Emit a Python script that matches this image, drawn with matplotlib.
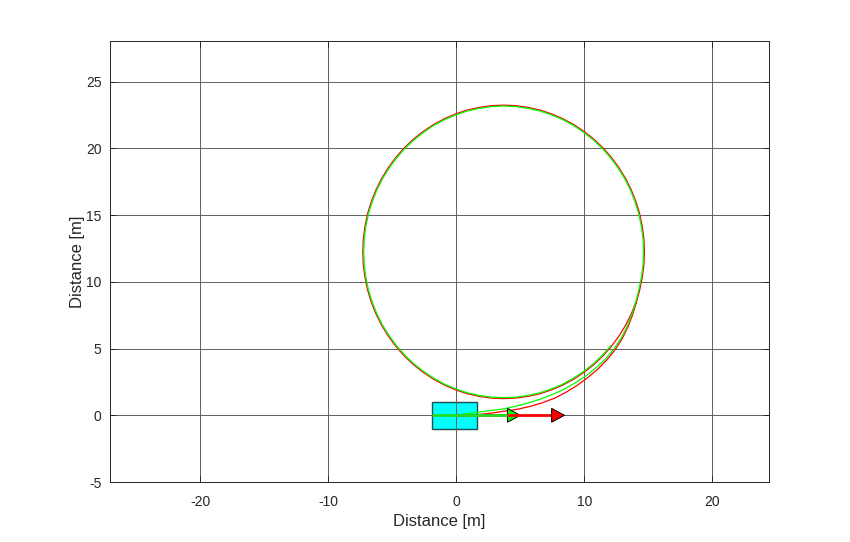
import matplotlib
matplotlib.use("Agg")
import matplotlib.pyplot as plt
from matplotlib.patches import Rectangle

plt.rcParams['font.family'] = ['Liberation Sans', 'DejaVu Sans']
plt.rcParams['axes.unicode_minus'] = False

# reference path (red): approach curve, then one loop (5 deg steps)
ref_x = [0, 1.55, 2.64, 3.70, 4.73, 5.74, 6.73, 7.69, 8.60, 9.47, 10.29, 11.07, 11.78,
         12.42, 12.97, 13.42, 13.78, 14.07,
         14.33, 14.53, 14.66, 14.70, 14.66, 14.53, 14.33, 14.04, 13.67, 13.23, 12.71,
         12.13, 11.48, 10.77, 10.01, 9.20, 8.35, 7.46, 6.55, 5.61, 4.66, 3.70, 2.74,
         1.79, 0.85, -0.06, -0.95, -1.80, -2.61, -3.37, -4.08, -4.73, -5.31, -5.83,
         -6.27, -6.64, -6.93, -7.13, -7.26, -7.30, -7.26, -7.13, -6.93, -6.64, -6.27,
         -5.83, -5.31, -4.73, -4.08, -3.37, -2.61, -1.80, -0.95, -0.06, 0.85, 1.79,
         2.74, 3.70, 4.66, 5.61, 6.55, 7.46, 8.35, 9.20, 10.01, 10.77, 11.48, 12.13,
         12.71, 13.23, 13.67, 14.04]
ref_y = [0, 0.04, 0.15, 0.30, 0.445, 0.66, 0.94, 1.29, 1.74, 2.26, 2.84, 3.47, 4.17,
         4.93, 5.76, 6.64, 7.55, 8.47,
         9.40, 10.34, 11.29, 12.25, 13.21, 14.16, 15.10, 16.01, 16.90, 17.75, 18.56,
         19.32, 20.03, 20.68, 21.26, 21.78, 22.22, 22.59, 22.88, 23.08, 23.21, 23.25, 23.21,
         23.08, 22.88, 22.59, 22.22, 21.78, 21.26, 20.68, 20.03, 19.32, 18.56, 17.75,
         16.90, 16.01, 15.10, 14.16, 13.21, 12.25, 11.29, 10.34, 9.40, 8.49, 7.60,
         6.75, 5.94, 5.18, 4.47, 3.82, 3.24, 2.72, 2.28, 1.91, 1.62, 1.42,
         1.29, 1.25, 1.29, 1.42, 1.62, 1.91, 2.28, 2.72, 3.24, 3.82, 4.47, 5.18,
         5.94, 6.75, 7.60, 8.49]

# driven path (green)
car_x = [0, 1.58, 2.66, 3.70, 4.71, 5.69, 6.65, 7.58, 8.48, 9.35, 10.18, 10.96, 11.69,
         12.34, 12.90, 13.36, 13.72, 14.02,
         14.26, 14.46, 14.59, 14.63, 14.59, 14.46, 14.26, 13.97, 13.61, 13.17, 12.65,
         12.07, 11.43, 10.73, 9.97, 9.17, 8.32, 7.44, 6.53, 5.60, 4.65, 3.70, 2.75,
         1.80, 0.87, -0.04, -0.92, -1.77, -2.57, -3.33, -4.03, -4.67, -5.25, -5.77,
         -6.21, -6.57, -6.86, -7.06, -7.19, -7.23, -7.19, -7.06, -6.86, -6.57, -6.21,
         -5.77, -5.25, -4.67, -4.03, -3.33, -2.57, -1.77, -0.92, -0.04, 0.87, 1.80,
         2.75, 3.70, 4.65, 5.60, 6.53, 7.44, 8.32, 9.17, 9.97, 10.73, 11.43, 12.07]
car_y = [0, 0.22, 0.35, 0.48, 0.69, 0.94, 1.24, 1.58, 1.99, 2.46, 2.99, 3.59, 4.26,
         5.00, 5.81, 6.68, 7.58, 8.50,
         9.42, 10.35, 11.30, 12.25, 13.20, 14.15, 15.08, 15.99, 16.87, 17.72, 18.52,
         19.28, 19.98, 20.62, 21.20, 21.72, 22.16, 22.52, 22.81, 23.01, 23.14, 23.18, 23.14,
         23.01, 22.81, 22.52, 22.16, 21.72, 21.20, 20.62, 19.98, 19.28, 18.52, 17.72,
         16.87, 15.99, 15.08, 14.15, 13.20, 12.25, 11.30, 10.35, 9.42, 8.51, 7.63,
         6.78, 5.98, 5.22, 4.52, 3.88, 3.30, 2.79, 2.34, 1.98, 1.69, 1.49,
         1.36, 1.32, 1.36, 1.49, 1.69, 1.98, 2.34, 2.79, 3.30, 3.88, 4.52, 5.22]

# vehicle body and arrows
body_rear = -1.9
body_len = 3.5
body_wid = 2.0
vel_arrow = 5.0      # green
ref_arrow = 8.45     # red
head_len = 1.0
head_wid = 1.04

fig = plt.figure(figsize=(8.5, 5.42), dpi=100)
ax = fig.add_axes([0.1294, 0.1107, 0.7756, 0.8137])

ax.add_patch(Rectangle((body_rear, -body_wid / 2), body_len, body_wid,
                       facecolor='#00ffff', edgecolor='#1a4d4d', lw=1.0, zorder=1))

ax.plot(ref_x, ref_y, color='#ff0000', lw=0.9, zorder=2)
ax.plot(car_x, car_y, color='#00ff00', lw=0.9, zorder=2.1)

# arrows
ax.arrow(vel_arrow - head_len, 0, head_len, 0, width=0, head_width=head_wid,
         head_length=head_len, length_includes_head=True,
         fc='#00ff00', ec='k', lw=0.7, zorder=3)
ax.plot([0, ref_arrow - head_len], [0, 0], color='#ff0000', lw=2.0,
        solid_capstyle='butt', zorder=3.2)
ax.arrow(ref_arrow - head_len, 0, head_len, 0, width=0, head_width=head_wid,
         head_length=head_len, length_includes_head=True,
         fc='#ff0000', ec='k', lw=0.7, zorder=3.3)
ax.plot([body_rear, vel_arrow - head_len], [0, 0], color='#22dd22', lw=2.0,
        solid_capstyle='butt', zorder=3.4)

ax.set_xlim(-27.05, 24.45)
ax.set_ylim(-5, 28.06)
ax.set_xticks([-20, -10, 0, 10, 20])
ax.set_yticks([-5, 0, 5, 10, 15, 20, 25])
ax.grid(True, color='#5e5e5e', lw=0.7)
ax.tick_params(direction='in', length=4.5, width=0.7, colors='#262626',
               top=True, right=True, labelsize=10, pad=6)
ax.tick_params(axis='x', pad=9)
for s in ax.spines.values():
    s.set_color('#262626')
    s.set_linewidth(0.7)

ax.set_xlabel('Distance [m]', fontsize=12, color='#262626', labelpad=4)
ax.set_ylabel('Distance [m]', fontsize=12, color='#262626', labelpad=1)

fig.savefig('out.png', dpi=100)
